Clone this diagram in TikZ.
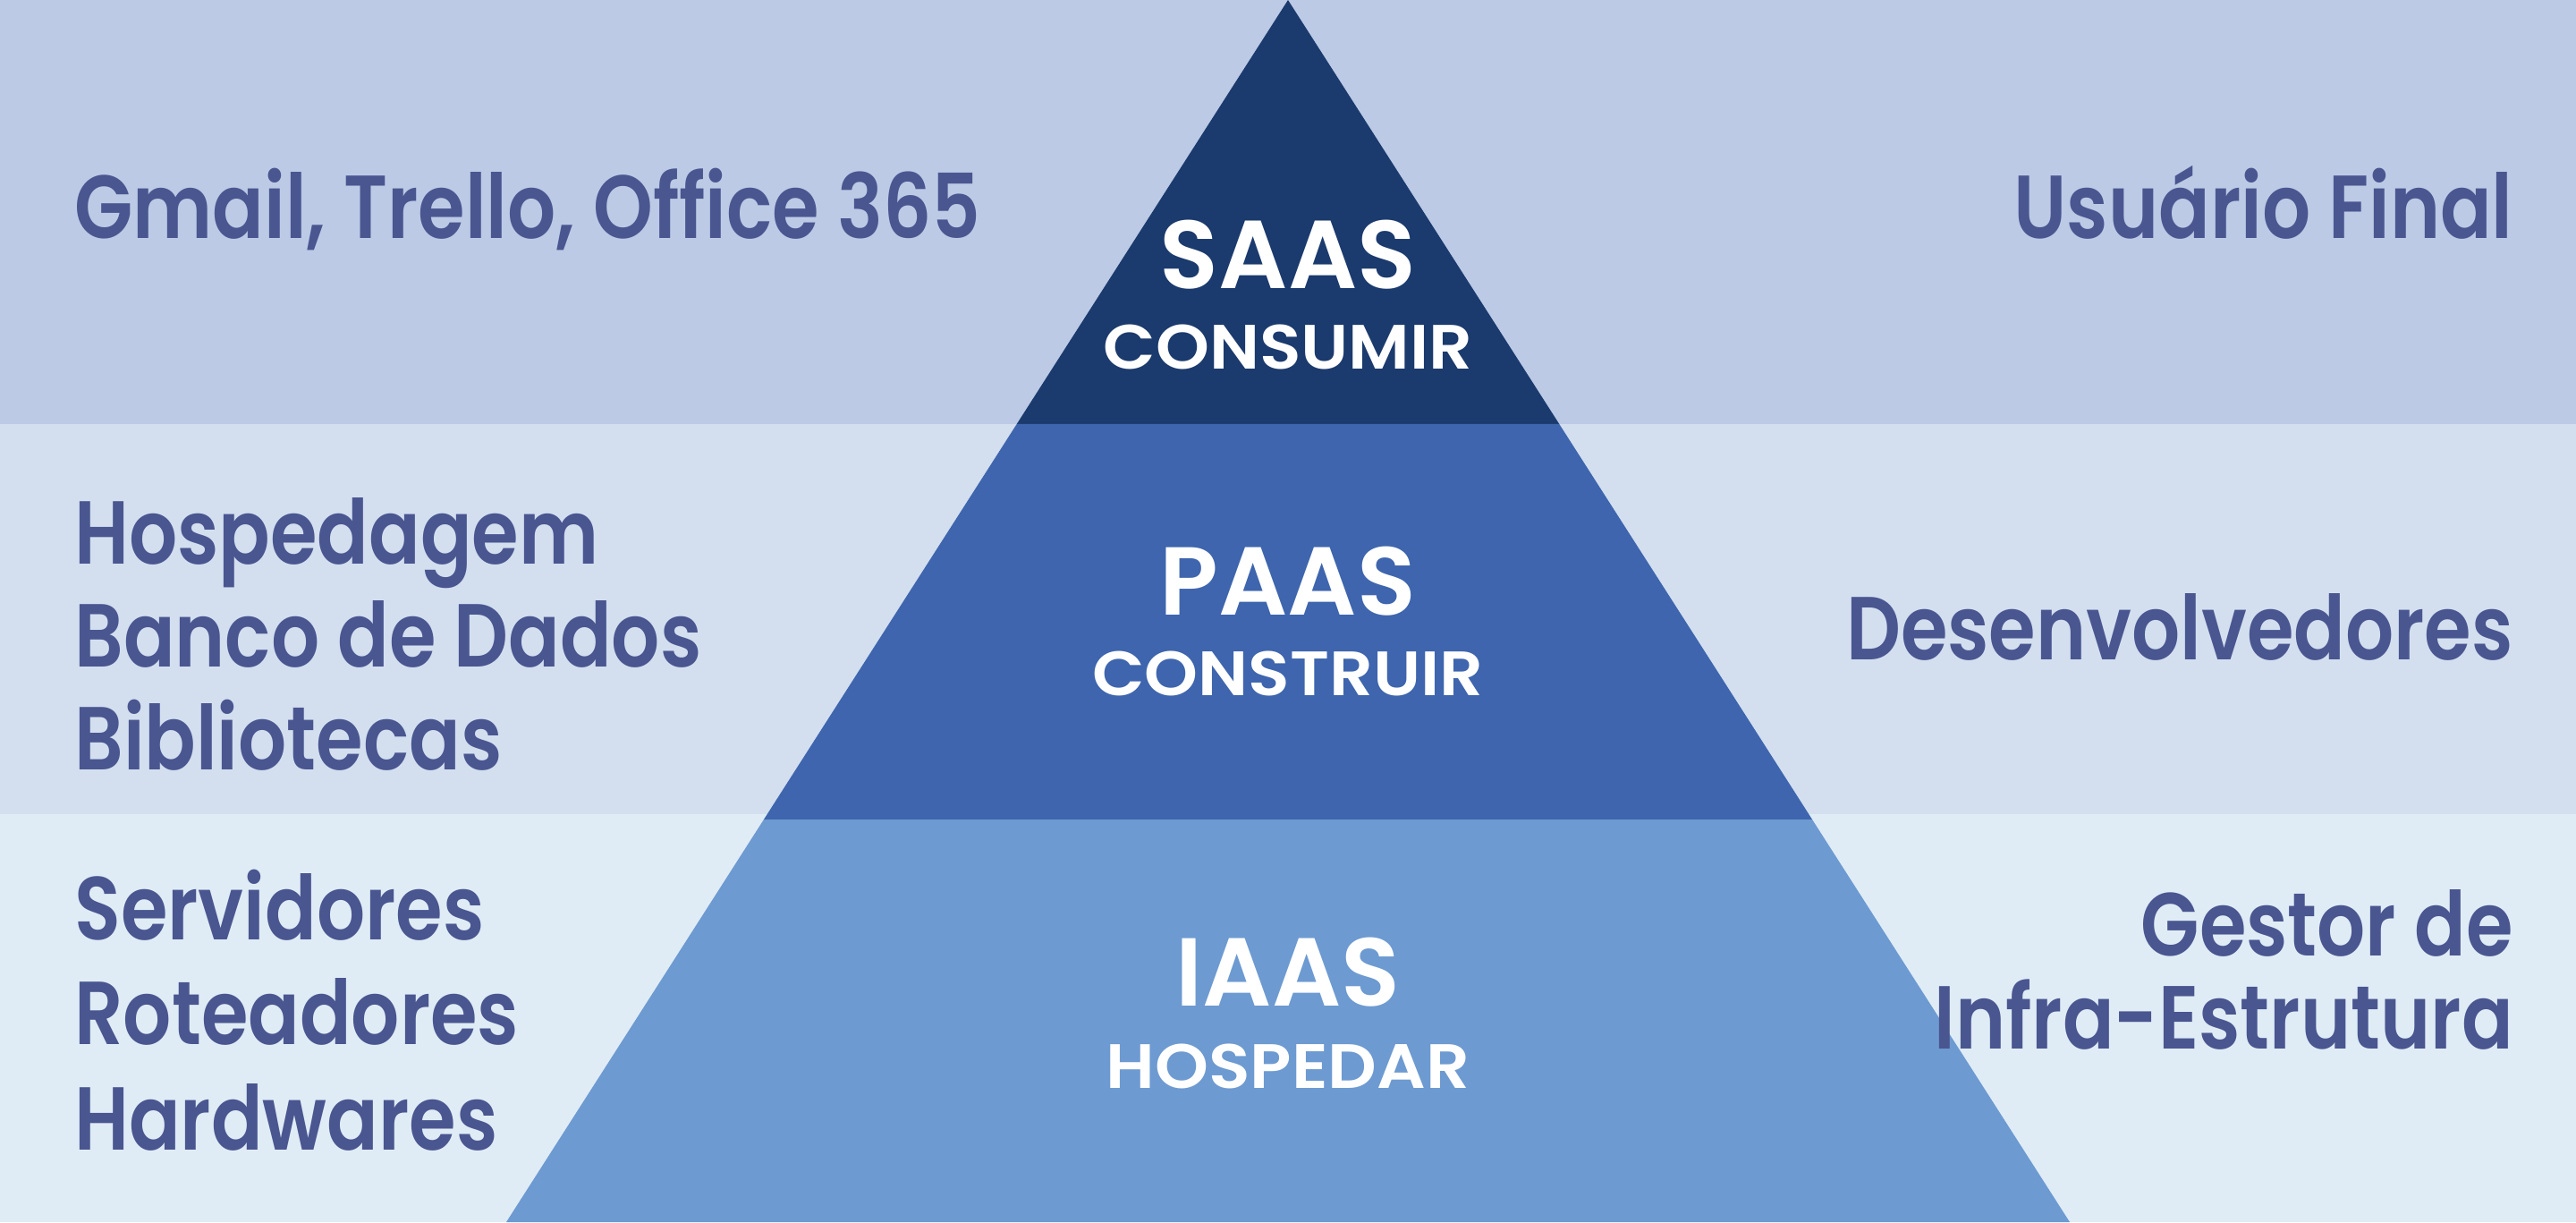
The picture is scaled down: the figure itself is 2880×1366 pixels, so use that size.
\documentclass[tikz,border=0pt]{standalone}
\usepackage{fontspec}
\usetikzlibrary{calc}
\newfontfamily\sidefont{Poppins SemiBold}[FakeStretch=0.85]
\newfontfamily\tierfont{Poppins SemiBold}
\newfontfamily\verbfont{Poppins SemiBold}[FakeStretch=1.09]
\definecolor{bandtop}{HTML}{BCCAE6}
\definecolor{bandmid}{HTML}{D3DFEF}
\definecolor{bandlow}{HTML}{E0ECF5}
\definecolor{sidetext}{HTML}{4A5690}
\definecolor{tiersaas}{HTML}{1B3A6D}
\definecolor{tierpaas}{HTML}{3E65AD}
\definecolor{tieriaas}{HTML}{6D9AD1}
\tikzset{
  sidelabel/.style={inner sep=0pt, text=sidetext, font=\sidefont\fontsize{50}{57}\selectfont},
  tiername/.style={inner sep=0pt, text=white, anchor=base, font=\tierfont\fontsize{54}{60}\selectfont},
  tierverb/.style={inner sep=0pt, text=white, anchor=base, font=\verbfont\fontsize{35}{40}\selectfont},
}
\begin{document}
\begin{tikzpicture}[x=0.5pt,y=-0.5pt]
\useasboundingbox (0,0) rectangle (2880,1366);
% background bands
\fill[bandtop] (0,0) rectangle (2880,474);
\fill[bandmid] (0,474) rectangle (2880,910);
\fill[bandlow] (0,910) rectangle (2880,1366);
% pyramid: apex (1440,0), base from 566 to 2314 at y=1366
\coordinate (apex) at (1440,0);
\coordinate (bl) at (566,1366);
\coordinate (br) at (2314,1366);
\coordinate (l1) at ($(apex)!474/1366!(bl)$);
\coordinate (r1) at ($(apex)!474/1366!(br)$);
\coordinate (l2) at ($(apex)!916/1366!(bl)$);
\coordinate (r2) at ($(apex)!916/1366!(br)$);
\fill[tiersaas] (apex) -- (r1) -- (l1) -- cycle;
\fill[tierpaas] (l1) -- (r1) -- (r2) -- (l2) -- cycle;
\fill[tieriaas] (l2) -- (r2) -- (br) -- (bl) -- cycle;
% tier labels
\node[tiername] (saas) at (1440,322) {SAAS};
\node[tierverb] (consumir) at (1440,412) {CONSUMIR};
\node[tiername] (paas) at (1440,687) {PAAS};
\node[tierverb] (construir) at (1440,777) {CONSTRUIR};
\node[tiername] (iaas) at (1440,1124) {IAAS};
\node[tierverb] (hospedar) at (1440,1216) {HOSPEDAR};
% left column
\node[sidelabel, anchor=base west] (apps) at (83,266) {Gmail, Trello, Office 365};
\node[sidelabel, anchor=base west] (hosp) at (83,630) {Hospedagem};
\node[sidelabel, anchor=base west] (banco) at (83,745) {Banco de Dados};
\node[sidelabel, anchor=base west] (bibl) at (83,860) {Bibliotecas};
\node[sidelabel, anchor=base west] (serv) at (83,1050) {Servidores};
\node[sidelabel, anchor=base west] (rot) at (83,1167) {Roteadores};
\node[sidelabel, anchor=base west] (hw) at (83,1285) {Hardwares};
% right column
\node[sidelabel, anchor=base east] (user) at (2810,266) {Usuário Final};
\node[sidelabel, anchor=base east] (dev) at (2810,737) {Desenvolvedores};
\node[sidelabel, anchor=base east] (gestor) at (2810,1068) {Gestor de};
\node[sidelabel, anchor=base east] (infra) at (2810,1172) {Infra-Estrutura};
\end{tikzpicture}
\end{document}
